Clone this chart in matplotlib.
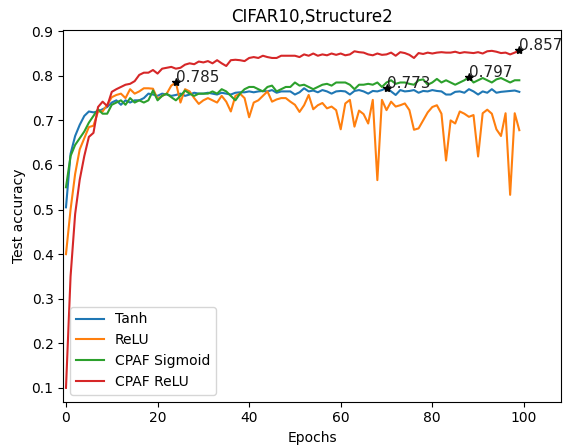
import numpy as np
import matplotlib
matplotlib.use("Agg")
import matplotlib.pyplot as plt

epochs = list(range(100))

tanh = [0.505, 0.625, 0.665, 0.69, 0.71, 0.72, 0.718, 0.72, 0.725, 0.73,
        0.74, 0.745, 0.735, 0.745, 0.74, 0.745, 0.745, 0.75, 0.76, 0.758,
        0.755, 0.76, 0.758, 0.755, 0.757, 0.76, 0.755, 0.758, 0.762, 0.76,
        0.76, 0.762, 0.76, 0.758, 0.762, 0.76, 0.758, 0.762, 0.763, 0.763,
        0.765, 0.763, 0.765, 0.766, 0.765, 0.768, 0.762, 0.765, 0.765, 0.765,
        0.758, 0.763, 0.772, 0.765, 0.767, 0.763, 0.768, 0.765, 0.76, 0.765,
        0.766, 0.765, 0.758, 0.766, 0.768, 0.765, 0.76, 0.766, 0.765, 0.768,
        0.773, 0.765, 0.757, 0.768, 0.765, 0.766, 0.768, 0.762, 0.766, 0.765,
        0.768, 0.766, 0.765, 0.758, 0.758, 0.764, 0.765, 0.762, 0.77, 0.765,
        0.758, 0.765, 0.762, 0.77, 0.762, 0.764, 0.765, 0.766, 0.767, 0.764]

relu = [0.40, 0.50, 0.58, 0.635, 0.66, 0.685, 0.688, 0.72, 0.72, 0.735,
        0.752, 0.757, 0.76, 0.75, 0.77, 0.76, 0.765, 0.772, 0.772, 0.771,
        0.748, 0.755, 0.76, 0.778, 0.785, 0.74, 0.77, 0.765, 0.75, 0.737,
        0.745, 0.75, 0.745, 0.74, 0.755, 0.742, 0.72, 0.755, 0.76, 0.75,
        0.707, 0.74, 0.745, 0.755, 0.765, 0.742, 0.747, 0.75, 0.75, 0.742,
        0.735, 0.719, 0.734, 0.757, 0.725, 0.734, 0.739, 0.727, 0.731, 0.723,
        0.68, 0.738, 0.746, 0.686, 0.722, 0.714, 0.693, 0.746, 0.566, 0.746,
        0.723, 0.742, 0.731, 0.734, 0.738, 0.723, 0.679, 0.682, 0.70, 0.718,
        0.73, 0.734, 0.715, 0.61, 0.70, 0.693, 0.72, 0.715, 0.708, 0.712,
        0.619, 0.716, 0.724, 0.715, 0.68, 0.665, 0.716, 0.533, 0.716, 0.678]

cpaf_sigmoid = [0.55, 0.62, 0.645, 0.66, 0.675, 0.695, 0.71, 0.725, 0.715, 0.715,
                0.735, 0.74, 0.745, 0.735, 0.75, 0.74, 0.745, 0.74, 0.745, 0.767,
                0.745, 0.755, 0.76, 0.752, 0.745, 0.755, 0.767, 0.76, 0.755, 0.76,
                0.76, 0.76, 0.765, 0.76, 0.77, 0.765, 0.755, 0.745, 0.76, 0.77,
                0.775, 0.775, 0.77, 0.765, 0.775, 0.778, 0.765, 0.77, 0.775, 0.775,
                0.785, 0.778, 0.78, 0.775, 0.77, 0.775, 0.78, 0.782, 0.778, 0.785,
                0.785, 0.785, 0.78, 0.77, 0.78, 0.78, 0.782, 0.78, 0.785, 0.775,
                0.785, 0.79, 0.782, 0.785, 0.785, 0.782, 0.78, 0.79, 0.792, 0.78,
                0.785, 0.793, 0.785, 0.79, 0.785, 0.78, 0.785, 0.79, 0.797, 0.785,
                0.79, 0.795, 0.79, 0.785, 0.792, 0.795, 0.79, 0.785, 0.79, 0.79]

cpaf_relu = [0.10, 0.35, 0.49, 0.567, 0.62, 0.663, 0.672, 0.73, 0.742, 0.732,
             0.764, 0.77, 0.775, 0.78, 0.782, 0.788, 0.802, 0.807, 0.807, 0.813,
             0.805, 0.816, 0.818, 0.82, 0.816, 0.818, 0.825, 0.828, 0.826, 0.832,
             0.83, 0.833, 0.828, 0.835, 0.828, 0.822, 0.835, 0.836, 0.835, 0.833,
             0.84, 0.842, 0.84, 0.845, 0.842, 0.84, 0.84, 0.845, 0.845, 0.845,
             0.845, 0.842, 0.848, 0.845, 0.85, 0.845, 0.848, 0.846, 0.85, 0.847,
             0.85, 0.846, 0.848, 0.855, 0.853, 0.852, 0.848, 0.846, 0.85, 0.847,
             0.848, 0.852, 0.845, 0.853, 0.851, 0.847, 0.84, 0.851, 0.849, 0.852,
             0.85, 0.852, 0.853, 0.852, 0.852, 0.854, 0.851, 0.853, 0.852, 0.851,
             0.853, 0.85, 0.855, 0.856, 0.854, 0.851, 0.852, 0.848, 0.852, 0.857]

series = [("Tanh", tanh), ("ReLU", relu), ("CPAF Sigmoid", cpaf_sigmoid), ("CPAF ReLU", cpaf_relu)]

fig = plt.figure(figsize=(5.63, 4.48), dpi=100)
ax = fig.add_axes([0.1124, 0.1033, 0.884, 0.830])

for name, vals in series:
    ax.plot(epochs, vals, label=name, linewidth=1.5)

for name, vals in series:
    i = int(np.argmax(vals))
    ax.plot(epochs[i], vals[i], marker='*', color='black', markersize=6, linestyle='none')
    ax.text(epochs[i], vals[i], "%.3f" % vals[i], fontsize=11, color='#222222')

ax.set_xlim(-0.59, 108.1)
ax.set_ylim(0.069, 0.903)
ax.set_yticks([0.1, 0.2, 0.3, 0.4, 0.5, 0.6, 0.7, 0.8, 0.9])
ax.set_xticks([0, 20, 40, 60, 80, 100])
ax.set_title("CIFAR10,Structure2", fontsize=12)
ax.set_xlabel("Epochs")
ax.set_ylabel("Test accuracy")
ax.legend(loc="lower left")

fig.savefig("out.png", dpi=100)
